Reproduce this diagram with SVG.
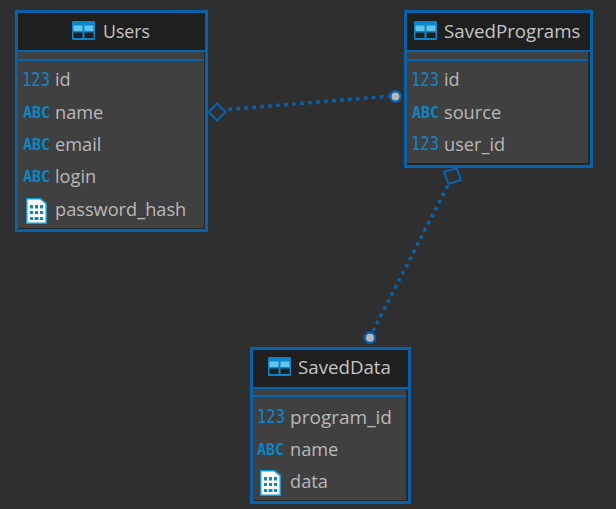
<svg xmlns="http://www.w3.org/2000/svg" xmlns:xlink="http://www.w3.org/1999/xlink" width="616" height="509" viewBox="0 0 616 509">
<style>
.bg{fill:#2f2f2f}
.frame{fill:#404040;stroke:#0563ae;stroke-width:3}
.head{fill:#1f1f1f}
.gap{fill:#404040}
.rule{fill:#0563ae}
.edge{fill:#262626}
text{font-family:"Open Sans","Noto Sans",sans-serif}
.title{font-size:18.700px;fill:#c4c4c4}
.attr{font-size:18.200px;fill:#b8b8b8}
.num{font-family:"DejaVu Sans Mono",monospace;font-size:19px;fill:#0c86c8}
.abc{font-family:"DejaVu Sans Mono",monospace;font-size:15.500px;font-weight:bold;fill:#0c86c8}
.conn{fill:none;stroke:#0563ae;stroke-width:3.500;stroke-dasharray:3.500 4.500}
.dia{fill:none;stroke:#0563ae;stroke-width:2}
.dot{fill:#b8b8b8;stroke:#0563ae;stroke-width:2.500}
</style>
<defs>
<g id="tbl">
<path d="M1 0H22L23 1V18L22 19H1L0 18V1Z" fill="#0c86c8"/>
<rect x="1.500" y="4.500" width="9" height="5.500" fill="#62c4ee"/>
<rect x="12.500" y="4.500" width="9" height="5.500" fill="#62c4ee"/>
<rect x="1.500" y="11.500" width="9" height="5.500" fill="#1f1f1f"/>
<rect x="12.500" y="11.500" width="9" height="5.500" fill="#1f1f1f"/>
</g>
<g id="doc">
<path d="M0 0H15L21 5V26H0Z" fill="#0c9ad8"/>
<path d="M1.500 1.500H14L19.500 6V24.500H1.500Z" fill="#fff"/>
<path d="M4 7h3v3.500h-3zM9 7h3v3.500h-3zM14 7h3v3.500h-3zM4 13h3v3h-3zM9 13h3v3h-3zM14 13h3v3h-3zM4 19h3v3h-3zM8.500 19h4v3h-4zM14 19h3v3h-3z" fill="#0c86c8"/>
</g>
</defs>
<rect class="bg" width="616" height="509"/>
<g id="connectors">
<path class="conn" d="M228.500 109.400L392 96"/>
<path class="conn" d="M447.700 185.700L373 331"/>
<path class="dia" d="M208.500 112L217 103.500L225.500 112L217 120.500Z"/>
<path class="dia" d="M444.300 171.700L456.700 168.300L461 180L448.300 184Z"/>
<circle class="dot" cx="395.500" cy="96.500" r="5.200"/>
<circle class="dot" cx="370" cy="337.700" r="5.200"/>
</g>
<g id="users">
<rect class="frame" x="16.500" y="11.500" width="190" height="219"/>
<rect class="head" x="18" y="13" width="187" height="37"/>
<rect class="gap" x="18" y="52" width="187" height="7"/>
<rect class="rule" x="18" y="50" width="187" height="2"/>
<rect class="rule" x="18" y="59" width="187" height="2"/>
<rect class="edge" x="204" y="52" width="1" height="176"/>
<rect class="edge" x="18" y="228" width="187" height="1"/>
<use href="#tbl" x="72" y="21"/>
<text class="title" x="103" y="38" textLength="47" lengthAdjust="spacingAndGlyphs">Users</text>
<text class="num" x="22" y="86" textLength="28" lengthAdjust="spacingAndGlyphs">123</text><text class="attr" x="55" y="86">id</text>
<text class="abc" x="23" y="118" textLength="27" lengthAdjust="spacingAndGlyphs">ABC</text><text class="attr" x="55" y="119">name</text>
<text class="abc" x="23" y="150" textLength="27" lengthAdjust="spacingAndGlyphs">ABC</text><text class="attr" x="55" y="151">email</text>
<text class="abc" x="23" y="182" textLength="27" lengthAdjust="spacingAndGlyphs">ABC</text><text class="attr" x="55" y="183">login</text>
<use href="#doc" x="26" y="198"/><text class="attr" x="55" y="215.500">password_hash</text>
</g>
<g id="savedprograms">
<rect class="frame" x="405.500" y="11.500" width="186" height="155"/>
<rect class="head" x="407" y="13" width="183" height="37"/>
<rect class="gap" x="407" y="52" width="183" height="7"/>
<rect class="rule" x="407" y="50" width="183" height="2"/>
<rect class="rule" x="407" y="59" width="183" height="2"/>
<rect class="edge" x="588" y="52" width="2" height="113"/>
<rect class="edge" x="407" y="163" width="183" height="2"/>
<use href="#tbl" x="414" y="21"/>
<text class="title" x="444" y="38">SavedPrograms</text>
<text class="num" x="411" y="86" textLength="28" lengthAdjust="spacingAndGlyphs">123</text><text class="attr" x="444" y="86">id</text>
<text class="abc" x="412" y="118" textLength="27" lengthAdjust="spacingAndGlyphs">ABC</text><text class="attr" x="444" y="119">source</text>
<text class="num" x="411" y="150" textLength="28" lengthAdjust="spacingAndGlyphs">123</text><text class="attr" x="444" y="151">user_id</text>
</g>
<g id="saveddata">
<rect class="frame" x="251.500" y="348.500" width="158" height="154"/>
<rect class="head" x="253" y="350" width="155" height="37"/>
<rect class="gap" x="253" y="389" width="155" height="6"/>
<rect class="rule" x="253" y="387" width="155" height="2"/>
<rect class="rule" x="253" y="395" width="155" height="2"/>
<rect class="edge" x="406" y="389" width="2" height="112"/>
<rect class="edge" x="253" y="500" width="155" height="1"/>
<use href="#tbl" x="268" y="357"/>
<text class="title" x="298" y="374">SavedData</text>
<text class="num" x="257" y="423" textLength="28" lengthAdjust="spacingAndGlyphs">123</text><text class="attr" x="290" y="423.500" textLength="102" lengthAdjust="spacingAndGlyphs">program_id</text>
<text class="abc" x="257" y="455" textLength="27" lengthAdjust="spacingAndGlyphs">ABC</text><text class="attr" x="290" y="456">name</text>
<use href="#doc" x="260" y="470"/><text class="attr" x="290" y="488">data</text>
</g>
</svg>
